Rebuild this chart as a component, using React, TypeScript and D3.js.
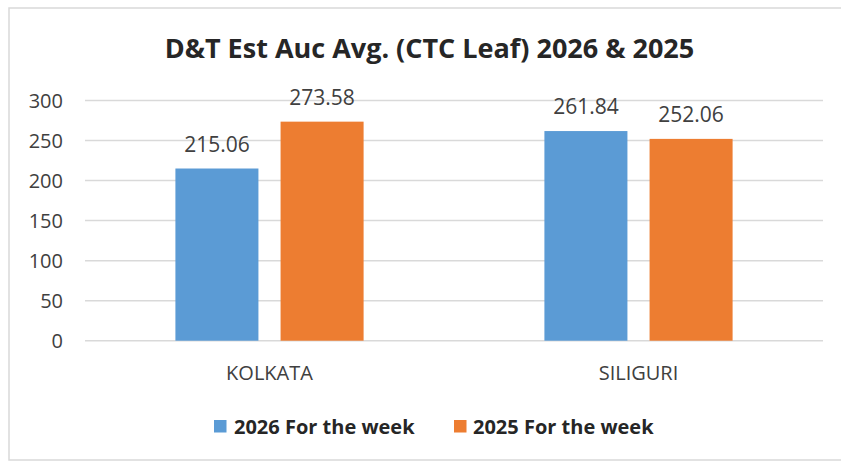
import React from "react";
import * as d3 from "d3";

const title = "D&T Est Auc Avg. (CTC Leaf) 2026 & 2025";
const categories = ["KOLKATA", "SILIGURI"];
const seriesNames = ["2026 For the week", "2025 For the week"];
const values2026 = [215.06, 261.84];
const values2025 = [273.58, 252.06];
const yTicks = [0, 50, 100, 150, 200, 250, 300];
const colors = ["#5b9bd5", "#ed7d31"];

const W = 841;
const H = 462;
const plot = { left: 85, right: 823, top: 100.5, bottom: 340.7 };
const FONT = "'Open Sans', 'Liberation Sans', sans-serif";

export default function App() {
  const series = [values2026, values2025];
  const x0 = d3
    .scaleBand<string>()
    .domain(categories)
    .range([plot.left, plot.right])
    .paddingInner(0)
    .paddingOuter(0);
  const bw = x0.bandwidth();
  const barW = bw * 0.225;
  const gap = bw * 0.06;
  const y = d3.scaleLinear().domain([0, 300]).range([plot.bottom, plot.top]);

  const barX = (ci: number, si: number) => {
    const c = (x0(categories[ci]) as number) + bw / 2;
    const groupW = barW * 2 + gap;
    return c - groupW / 2 + si * (barW + gap);
  };

  const legendItems = [
    { sq: 214, tx: 234 },
    { sq: 454, tx: 473 },
  ];

  return (
    <svg
      width={W}
      height={H}
      style={{ position: "absolute", left: 0, top: 0, display: "block", background: "#fff" }}
    >
      <rect x={0} y={0} width={W} height={H} fill="#fff" />
      <rect x={9} y={8} width={W + 20} height={452} fill="none" stroke="#d9d9d9" strokeWidth={1.5} />
      <text
        x={429.5}
        y={58}
        textAnchor="middle"
        fontFamily={FONT}
        fontWeight="bold"
        fontSize={27}
        fill="#262626"
      >
        {title}
      </text>
      {yTicks.map((t) => (
        <g key={t}>
          <line
            x1={plot.left}
            x2={plot.right}
            y1={y(t)}
            y2={y(t)}
            stroke="#d9d9d9"
            strokeWidth={1.5}
          />
          <text
            x={63}
            y={y(t)}
            dy="0.36em"
            textAnchor="end"
            fontFamily={FONT}
            fontSize={20}
            fill="#404040"
          >
            {t}
          </text>
        </g>
      ))}
      {categories.map((cat, ci) =>
        series.map((vals, si) => (
          <g key={cat + si}>
            <rect
              x={barX(ci, si)}
              y={y(vals[ci])}
              width={barW}
              height={plot.bottom - y(vals[ci])}
              fill={colors[si]}
            />
            <text
              x={barX(ci, si) + barW / 2}
              y={y(vals[ci]) - 17}
              textAnchor="middle"
              fontFamily={FONT}
              fontSize={21}
              fill="#404040"
            >
              {vals[ci].toFixed(2)}
            </text>
          </g>
        ))
      )}
      {categories.map((cat) => (
        <text
          key={cat}
          x={(x0(cat) as number) + bw / 2}
          y={380}
          textAnchor="middle"
          fontFamily={FONT}
          fontSize={20}
          fill="#404040"
        >
          {cat}
        </text>
      ))}
      {seriesNames.map((name, si) => (
        <g key={name}>
          <rect x={legendItems[si].sq} y={420} width={12.5} height={12.5} fill={colors[si]} />
          <text
            x={legendItems[si].tx}
            y={434}
            fontFamily={FONT}
            fontWeight="bold"
            fontSize={20}
            fill="#262626"
          >
            {name}
          </text>
        </g>
      ))}
    </svg>
  );
}
